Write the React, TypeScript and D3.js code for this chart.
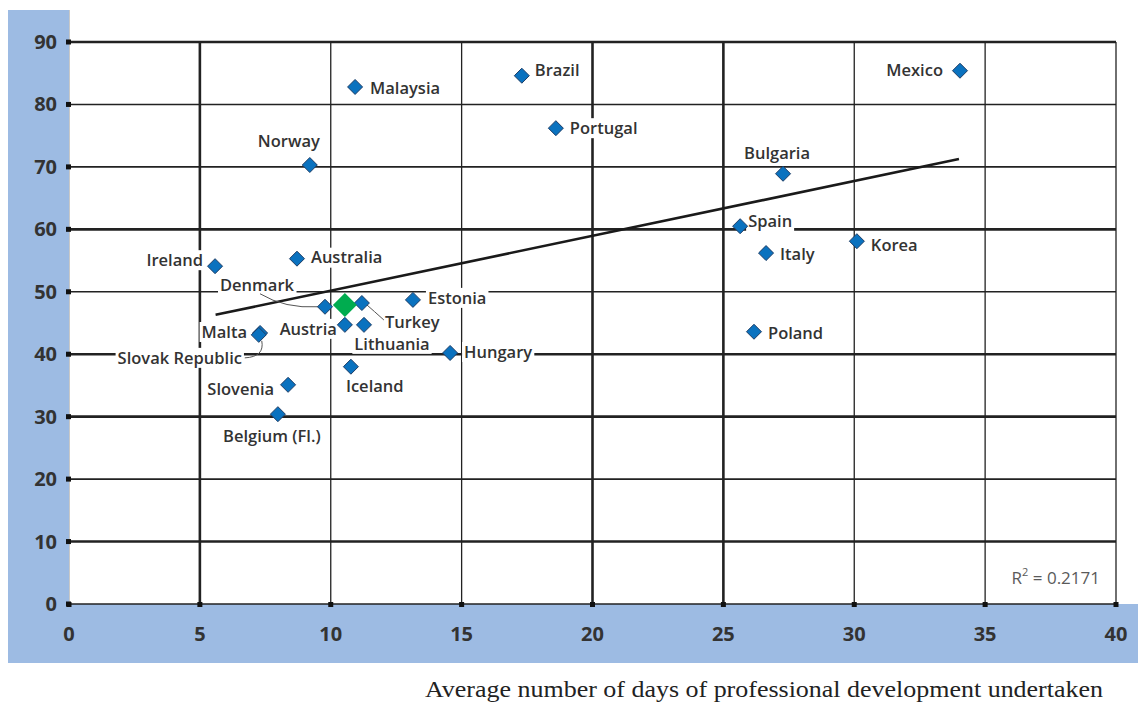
import React, { useEffect, useRef } from "react";
import * as d3 from "d3";

// ---- data ----
const countries = [
  "Mexico", "Brazil", "Malaysia", "Portugal", "Norway", "Bulgaria", "Spain", "Italy",
  "Korea", "Ireland", "Australia", "Denmark", "Estonia", "Turkey", "Austria", "Lithuania",
  "Malta", "Slovak Republic", "Hungary", "Iceland", "Slovenia", "Belgium (Fl.)", "Poland",
];
const daysPD = [
  34.04, 17.3, 10.93, 18.6, 9.2, 27.28, 25.64, 26.63,
  30.1, 5.58, 8.71, 9.78, 13.14, 11.19, 10.54, 11.27,
  7.3, 7.25, 14.56, 10.77, 8.37, 7.98, 26.17,
];
const shareValues = [
  85.4, 84.6, 82.8, 76.2, 70.3, 68.9, 60.5, 56.2,
  58.1, 54.1, 55.3, 47.6, 48.7, 48.2, 44.7, 44.7,
  43.4, 43.1, 40.2, 38.0, 35.1, 30.4, 43.6,
];
const averageX = [10.54];
const averageY = [47.9];
const trendX = [5.6, 34.0];
const trendIntercept = 41.4;
const trendSlope = 0.878;
const rSquared = "0.2171";
const xTicks = [0, 5, 10, 15, 20, 25, 30, 35, 40];
const yTicks = [0, 10, 20, 30, 40, 50, 60, 70, 80, 90];
const xTitle = "Average number of days of professional development undertaken";

// ---- layout (label placement relative to point, in px) ----
type LabelPos = { anchor: string; dx: number; dy: number; leader?: [number, number, number, number, number, number] };
const labelLayout: Record<string, LabelPos> = {
  Mexico: { anchor: "end", dx: -17, dy: 0 },
  Brazil: { anchor: "start", dx: 13, dy: -5 },
  Malaysia: { anchor: "start", dx: 15, dy: 1 },
  Portugal: { anchor: "start", dx: 14, dy: 0 },
  Norway: { anchor: "middle", dx: -21, dy: -24 },
  Bulgaria: { anchor: "middle", dx: -6, dy: -21 },
  Spain: { anchor: "start", dx: 8, dy: -5 },
  Italy: { anchor: "start", dx: 14, dy: 1 },
  Korea: { anchor: "start", dx: 14, dy: 4 },
  Ireland: { anchor: "end", dx: -12, dy: -6 },
  Australia: { anchor: "start", dx: 14, dy: -1 },
  Denmark: { anchor: "middle", dx: -68, dy: -22, leader: [-65, -13, -40, 2, -7, 0] },
  Estonia: { anchor: "start", dx: 15, dy: -2 },
  Turkey: { anchor: "start", dx: 23, dy: 19, leader: [4, 1, 12, 8, 22, 17] },
  Austria: { anchor: "end", dx: -8, dy: 4 },
  Lithuania: { anchor: "middle", dx: 28, dy: 19 },
  Malta: { anchor: "end", dx: -13, dy: -1 },
  "Slovak Republic": { anchor: "middle", dx: -79, dy: 23, leader: [-14, 23, 6, 22, 3, 6] },
  Hungary: { anchor: "start", dx: 14, dy: -1 },
  Iceland: { anchor: "start", dx: -5, dy: 20 },
  Slovenia: { anchor: "end", dx: -14, dy: 4 },
  "Belgium (Fl.)": { anchor: "middle", dx: -6, dy: 22 },
  Poland: { anchor: "start", dx: 14, dy: 1 },
};

const thickY = new Set([90, 60, 40, 30, 10]);
const thickX = new Set([5, 20, 25]);

export default function App() {
  const ref = useRef<SVGSVGElement>(null);

  useEffect(() => {
    const svg = d3.select(ref.current);
    svg.selectAll("*").remove();
    const W = 1138, H = 702;
    const x = d3.scaleLinear().domain([0, 40]).range([69, 1116]);
    const y = d3.scaleLinear().domain([0, 90]).range([604, 42]);
    const blue = "#9dbbe3";

    svg.append("rect").attr("width", W).attr("height", H).attr("fill", "#fff");
    // blue bands
    svg.append("rect").attr("x", 8).attr("y", 10).attr("width", 61).attr("height", 653).attr("fill", blue);
    svg.append("rect").attr("x", 8).attr("y", 604).attr("width", W - 8).attr("height", 59).attr("fill", blue);
    // left plot border
    svg.append("line").attr("x1", 69.5).attr("x2", 69.5).attr("y1", 10).attr("y2", 604).attr("stroke", "#c8c8c8").attr("stroke-width", 1);

    const grid = svg.append("g");
    yTicks.forEach((t) => {
      grid.append("line")
        .attr("x1", x(0)).attr("x2", x(40)).attr("y1", y(t)).attr("y2", y(t))
        .attr("stroke", "#222").attr("stroke-width", thickY.has(t) ? 2.6 : 1.6);
    });
    xTicks.filter((t) => t > 0).forEach((t) => {
      grid.append("line")
        .attr("x1", x(t)).attr("x2", x(t)).attr("y1", y(90)).attr("y2", y(0))
        .attr("stroke", "#222").attr("stroke-width", thickX.has(t) ? 2.6 : 1.3);
    });
    // tick squares
    yTicks.forEach((t) => {
      svg.append("rect").attr("x", x(0) - 3).attr("y", y(t) - 2.5).attr("width", 5).attr("height", 5).attr("fill", "#111");
    });
    xTicks.forEach((t) => {
      svg.append("rect").attr("x", x(t) - 2.5).attr("y", y(0) - 2).attr("width", 5).attr("height", 5).attr("fill", "#111");
    });

    // tick labels
    const tickFont = "'Open Sans', sans-serif";
    yTicks.forEach((t) => {
      svg.append("text").attr("x", 57).attr("y", y(t)).attr("dy", "0.35em")
        .attr("text-anchor", "end").attr("font-family", tickFont).attr("font-weight", 700)
        .attr("font-size", 20).attr("fill", "#333").text(String(t));
    });
    xTicks.forEach((t) => {
      svg.append("text").attr("x", x(t)).attr("y", 634).attr("dy", "0.35em")
        .attr("text-anchor", "middle").attr("font-family", tickFont).attr("font-weight", 700)
        .attr("font-size", 20).attr("fill", "#333").text(String(t));
    });

    // labels (with white backgrounds)
    const bgLayer = svg.append("g");
    const trendLayer = svg.append("g");
    const leaderLayer = svg.append("g");
    const pointLayer = svg.append("g");
    const textLayer = svg.append("g");

    countries.forEach((c, i) => {
      const px = x(daysPD[i]);
      const py = y(shareValues[i]);
      const L = labelLayout[c];
      const txt = textLayer.append("text")
        .attr("x", px + L.dx).attr("y", py + L.dy).attr("dy", "0.35em")
        .attr("text-anchor", L.anchor)
        .attr("font-family", "'Open Sans', sans-serif").attr("font-weight", 600)
        .attr("font-size", 16.5).attr("fill", "#333").text(c);
      const bb = (txt.node() as SVGTextElement).getBBox();
      bgLayer.append("rect").attr("x", bb.x - 2).attr("y", py + L.dy - 10)
        .attr("width", bb.width + 4).attr("height", 20).attr("fill", "#fff");
      if (L.leader) {
        const [a, b, c1, d, e, f] = L.leader;
        leaderLayer.append("path")
          .attr("d", `M${px + a},${py + b} Q${px + c1},${py + d} ${px + e},${py + f}`)
          .attr("fill", "none").attr("stroke", "#555").attr("stroke-width", 1);
      }
    });

    // trend line
    trendLayer.append("line")
      .attr("x1", x(trendX[0])).attr("y1", y(trendIntercept + trendSlope * trendX[0]))
      .attr("x2", x(trendX[1])).attr("y2", y(trendIntercept + trendSlope * trendX[1]))
      .attr("stroke", "#1a1a1a").attr("stroke-width", 2.6);

    const diamond = (cx: number, cy: number, r: number) =>
      `M${cx},${cy - r} L${cx + r},${cy} L${cx},${cy + r} L${cx - r},${cy} Z`;

    countries.forEach((c, i) => {
      pointLayer.append("path").attr("d", diamond(x(daysPD[i]), y(shareValues[i]), 7.5))
        .attr("fill", "#0a72bf").attr("stroke", "#1d3d66").attr("stroke-width", 1);
    });
    averageX.forEach((ax, i) => {
      pointLayer.append("path").attr("d", diamond(x(ax), y(averageY[i]), 12))
        .attr("fill", "#00ac4f");
    });

    // R squared
    const r2 = svg.append("text").attr("x", 1100).attr("y", 584).attr("text-anchor", "end")
      .attr("font-family", "'Open Sans', sans-serif").attr("font-size", 17).attr("fill", "#5a5a5a");
    r2.append("tspan").text("R");
    r2.append("tspan").attr("font-size", 11).attr("dy", -8).text("2");
    r2.append("tspan").attr("dy", 8).text(" = " + rSquared);

    // axis title
    svg.append("text").attr("x", 425).attr("y", 697)
      .attr("textLength", 678).attr("lengthAdjust", "spacingAndGlyphs")
      .attr("font-family", "'Liberation Serif', serif").attr("font-size", 24)
      .attr("fill", "#222").text(xTitle);
  }, []);

  return (
    <svg ref={ref} width={1138} height={702} style={{ position: "absolute", left: 0, top: 0, display: "block" }} />
  );
}
